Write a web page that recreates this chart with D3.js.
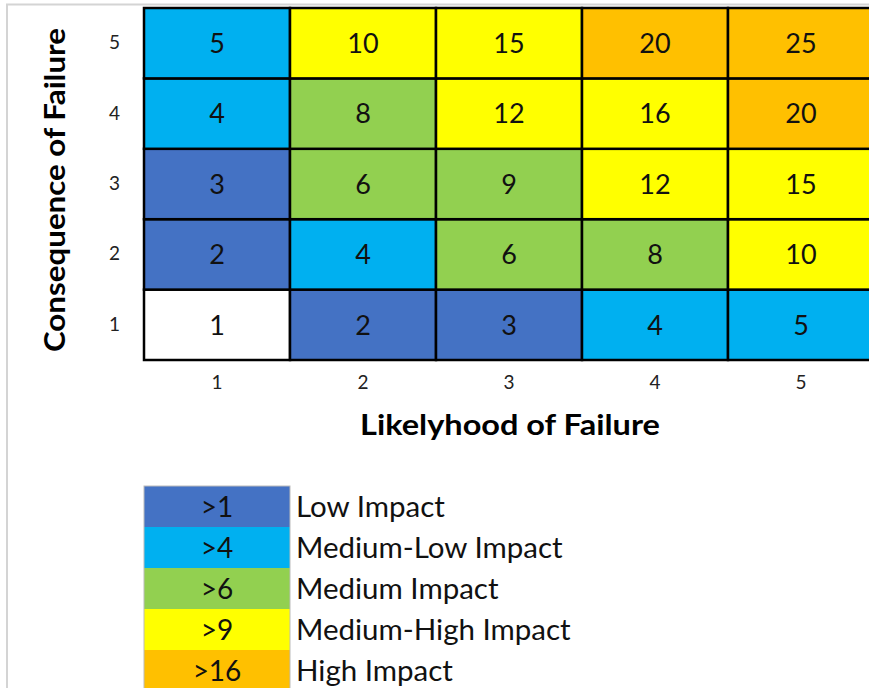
<!DOCTYPE html>
<html>
<head>
<meta charset="utf-8">
<script src="https://cdn.jsdelivr.net/npm/d3@7/dist/d3.min.js"></script>
<style>
  html, body { margin: 0; padding: 0; background: #fff; overflow: hidden; }
  svg { display: block; }
</style>
</head>
<body>
<svg id="chart" width="869" height="688"></svg>
<script>
// ---- data ----
const likelihood = [1, 2, 3, 4, 5];          // x categories
const consequence = [1, 2, 3, 4, 5];         // y categories
// scores[row] where row index = consequence - 1, column = likelihood - 1
const scores = [
  [1, 2, 3, 4, 5],
  [2, 4, 6, 8, 10],
  [3, 6, 9, 12, 15],
  [4, 8, 12, 16, 20],
  [5, 10, 15, 20, 25]
];
const thresholds = [2, 4, 6, 10, 20];
const levelColors = ["#ffffff", "#4472c4", "#00b0f0", "#92d050", "#ffff00", "#ffc000"];
const legendLabels = [">1", ">4", ">6", ">9", ">16"];
const legendNames = ["Low Impact", "Medium-Low Impact", "Medium Impact", "Medium-High Impact", "High Impact"];
const legendColors = ["#4472c4", "#00b0f0", "#92d050", "#ffff00", "#ffc000"];
const xTitle = "Likelyhood of Failure";
const yTitle = "Consequence of Failure";

// ---- layout ----
const svg = d3.select("#chart");
const font = "Lato, 'Open Sans', sans-serif";
const gx0 = 144, gy0 = 8, cw = 146, ch = 70.4;

const x = d3.scaleBand().domain(likelihood).range([gx0, gx0 + cw * 5]).padding(0);
const y = d3.scaleBand().domain(consequence.slice().reverse()).range([gy0, gy0 + ch * 5]).padding(0);
const color = d3.scaleThreshold().domain(thresholds).range(levelColors);

// outer frame
svg.append("rect").attr("x", 7).attr("y", 4.5).attr("width", 900).attr("height", 700)
  .attr("fill", "none").attr("stroke", "#d4d4d4").attr("stroke-width", 2);

const cells = [];
consequence.forEach((c, ri) => likelihood.forEach((l, ci) => cells.push({ l, c, v: scores[ri][ci] })));

const g = svg.append("g");
g.selectAll("rect.cell").data(cells).join("rect")
  .attr("class", "cell")
  .attr("x", d => x(d.l)).attr("y", d => y(d.c))
  .attr("width", x.bandwidth()).attr("height", y.bandwidth())
  .attr("fill", d => color(d.v))
  .attr("stroke", "#000").attr("stroke-width", 2.5);

g.selectAll("text.val").data(cells).join("text")
  .attr("class", "val")
  .attr("x", d => x(d.l) + x.bandwidth() / 2)
  .attr("y", d => y(d.c) + y.bandwidth() / 2)
  .attr("dy", "0.36em")
  .attr("text-anchor", "middle")
  .attr("font-family", font).attr("font-size", 27).attr("fill", "#111")
  .text(d => d.v);

// axes (tick labels only)
const xAxis = d3.axisBottom(x).tickSize(0).tickPadding(0);
const xa = svg.append("g").attr("transform", `translate(0, ${gy0 + ch * 5 + 22})`).call(xAxis);
xa.select(".domain").remove();
xa.selectAll("text").attr("font-family", font).attr("font-size", 19).attr("fill", "#222").attr("dy", "0.35em");

const yAxis = d3.axisLeft(y).tickSize(0).tickPadding(0);
const ya = svg.append("g").attr("transform", `translate(120, 0)`).call(yAxis);
ya.select(".domain").remove();
ya.selectAll("text").attr("font-family", font).attr("font-size", 19).attr("fill", "#222");

// axis titles
svg.append("text").attr("x", 510).attr("y", 425).attr("dy", "0.35em")
  .attr("text-anchor", "middle").attr("font-family", font).attr("font-weight", "bold")
  .attr("font-size", 28).attr("fill", "#000")
  .attr("textLength", 300).attr("lengthAdjust", "spacingAndGlyphs")
  .text(xTitle);

svg.append("text").attr("transform", "translate(55, 190) rotate(-90)").attr("dy", "0.35em")
  .attr("text-anchor", "middle").attr("font-family", font).attr("font-weight", "bold")
  .attr("font-size", 29).attr("fill", "#000")
  .attr("textLength", 324).attr("lengthAdjust", "spacingAndGlyphs")
  .text(yTitle);

// legend
const ly = d3.scaleBand().domain(legendLabels).range([486, 486 + 41 * 5]).padding(0);
const lg = svg.append("g");
lg.selectAll("rect").data(legendLabels).join("rect")
  .attr("x", 144).attr("y", d => ly(d)).attr("width", 146).attr("height", ly.bandwidth())
  .attr("fill", (d, i) => legendColors[i]);
lg.append("rect").attr("x", 144).attr("y", 486).attr("width", 146).attr("height", 41 * 5)
  .attr("fill", "none").attr("stroke", "#bbb").attr("stroke-width", 1);
lg.selectAll("text.code").data(legendLabels).join("text")
  .attr("class", "code")
  .attr("x", 217).attr("y", d => ly(d) + ly.bandwidth() / 2).attr("dy", "0.36em")
  .attr("text-anchor", "middle").attr("font-family", font).attr("font-size", 28).attr("fill", "#111")
  .text(d => d);
lg.selectAll("text.name").data(legendNames).join("text")
  .attr("class", "name")
  .attr("x", 296).attr("y", (d, i) => ly(legendLabels[i]) + ly.bandwidth() / 2).attr("dy", "0.36em")
  .attr("font-family", font).attr("font-size", 29.5).attr("fill", "#111")
  .text(d => d);
</script>
</body>
</html>
